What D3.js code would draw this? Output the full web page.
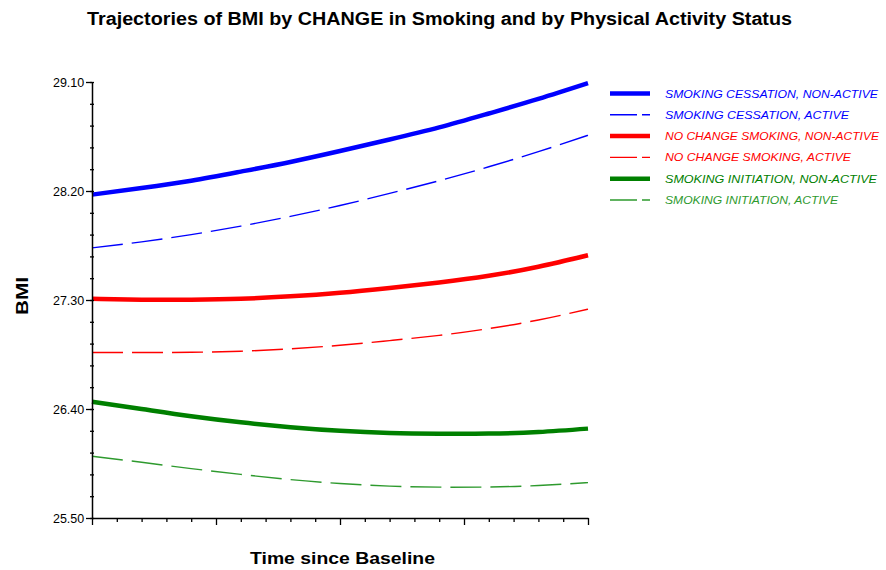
<!DOCTYPE html>
<html>
<head>
<meta charset="utf-8">
<script src="https://cdn.jsdelivr.net/npm/d3@7"></script>
<style>
  body { margin: 0; background: #fff; }
  text { font-family: "Liberation Sans", Arial, sans-serif; }
</style>
</head>
<body>
<div id="chart"></div>
<script>
const timePoints = [0, 2, 4, 6, 8, 10, 12, 14, 16, 18, 20];

const cessNonActive  = [28.17, 28.225, 28.285, 28.36, 28.44, 28.53, 28.625, 28.725, 28.84, 28.96, 29.09];
const cessActive     = [27.73, 27.78, 27.84, 27.91, 27.99, 28.08, 28.18, 28.285, 28.40, 28.525, 28.66];
const noChgNonActive = [27.31, 27.303, 27.303, 27.31, 27.33, 27.36, 27.40, 27.445, 27.50, 27.575, 27.67];
const noChgActive    = [26.866, 26.866, 26.868, 26.877, 26.897, 26.926, 26.965, 27.008, 27.064, 27.135, 27.224];
const initNonActive  = [26.46, 26.40, 26.34, 26.29, 26.25, 26.22, 26.202, 26.196, 26.197, 26.21, 26.238];
const initActive     = [26.01, 25.96, 25.908, 25.86, 25.817, 25.785, 25.763, 25.755, 25.756, 25.768, 25.792];

const seriesNames = [
  "SMOKING CESSATION, NON-ACTIVE",
  "SMOKING CESSATION, ACTIVE",
  "NO CHANGE SMOKING, NON-ACTIVE",
  "NO CHANGE SMOKING, ACTIVE",
  "SMOKING INITIATION, NON-ACTIVE",
  "SMOKING INITIATION, ACTIVE"
];
const seriesValues = [cessNonActive, cessActive, noChgNonActive, noChgActive, initNonActive, initActive];
const seriesColors = ["#0000ff", "#0000ff", "#ff0000", "#ff0000", "#008000", "#2e9a2e"];
const seriesDashed = [false, true, false, true, false, true];

const yMajorTicks = [25.5, 26.4, 27.3, 28.2, 29.1];

const series = seriesNames.map((name, i) => ({
  name,
  color: seriesColors[i],
  dashed: seriesDashed[i],
  values: timePoints.map((t, j) => ({ t, v: seriesValues[i][j] }))
}));

const W = 886, H = 570;
const svg = d3.select("#chart").append("svg")
  .attr("width", W).attr("height", H);

const x = d3.scaleLinear().domain([0, 20]).range([92, 588]);
const y = d3.scaleLinear().domain([25.5, 29.1]).range([518, 82]);

// Title
svg.append("text")
  .attr("x", 87).attr("y", 25)
  .attr("font-size", "18px").attr("font-weight", "bold")
  .attr("textLength", 705).attr("lengthAdjust", "spacingAndGlyphs")
  .text("Trajectories of BMI by CHANGE in Smoking and by Physical Activity Status");

// Lines
const line = d3.line()
  .x((d) => x(d.t))
  .y((d) => y(d.v))
  .curve(d3.curveNatural);

svg.selectAll(".series")
  .data(series)
  .join("path")
  .attr("class", "series")
  .attr("fill", "none")
  .attr("stroke", (d) => d.color)
  .attr("stroke-width", (d) => d.dashed ? 1.4 : 4.5)
  .attr("stroke-dasharray", (d) => d.dashed ? "31,9" : null)
  .attr("d", (d) => line(d.values));

// Y axis: minor ticks straddle the axis, majors stick out left
const yMinor = d3.range(25.5, 29.1001, 0.18);
svg.append("g")
  .attr("transform", "translate(92,0)")
  .call(d3.axisLeft(y).tickValues(yMinor).tickSize(2).tickFormat(""))
  .call((g) => g.select(".domain").remove())
  .selectAll("line").attr("x2", 2).attr("x1", -2).attr("stroke-width", 1.3);

svg.append("g")
  .attr("transform", "translate(92,0)")
  .call(d3.axisLeft(y).tickValues(yMajorTicks).tickSize(6).tickSizeOuter(0).tickFormat(d3.format(".2f")))
  .call((g) => g.select(".domain").attr("stroke-width", 1.5))
  .call((g) => g.selectAll("line").attr("stroke-width", 1.3))
  .selectAll("text")
  .attr("font-size", "12.5px")
  .attr("fill", "#000")
  .attr("dx", "0.1em");

// X axis: 20 minor steps, longer tick every 5
svg.append("g")
  .attr("transform", "translate(0,518)")
  .call(d3.axisBottom(x).ticks(20).tickSize(4).tickSizeOuter(0).tickFormat(""))
  .call((g) => g.select(".domain").attr("stroke-width", 1.5))
  .selectAll("line")
  .attr("y2", (d) => d % 5 === 0 ? 7 : 4)
  .attr("stroke-width", 1.3);

// Axis labels
svg.append("text")
  .attr("x", 250).attr("y", 564)
  .attr("font-size", "17px").attr("font-weight", "bold")
  .attr("textLength", 185).attr("lengthAdjust", "spacingAndGlyphs")
  .text("Time since Baseline");

svg.append("text")
  .attr("transform", "translate(28,315) rotate(-90)")
  .attr("font-size", "17px").attr("font-weight", "bold")
  .attr("textLength", 38).attr("lengthAdjust", "spacingAndGlyphs")
  .text("BMI");

// Legend
const legendWidths = [213, 184, 214, 186, 212, 173];
const legend = svg.append("g");
const rows = legend.selectAll("g")
  .data(series)
  .join("g")
  .attr("transform", (d, i) => `translate(610,${93.5 + i * 21.3})`);

rows.append("line")
  .attr("x1", 0).attr("x2", 40)
  .attr("stroke", (d) => d.color)
  .attr("stroke-width", (d) => d.dashed ? 1.4 : 4.5)
  .attr("stroke-dasharray", (d) => d.dashed ? "27,5" : null);

rows.append("text")
  .attr("x", 55).attr("y", 4)
  .attr("font-size", "11.5px").attr("font-style", "italic")
  .attr("fill", (d) => d.color)
  .attr("textLength", (d, i) => legendWidths[i]).attr("lengthAdjust", "spacingAndGlyphs")
  .text((d) => d.name);
</script>
</body>
</html>
